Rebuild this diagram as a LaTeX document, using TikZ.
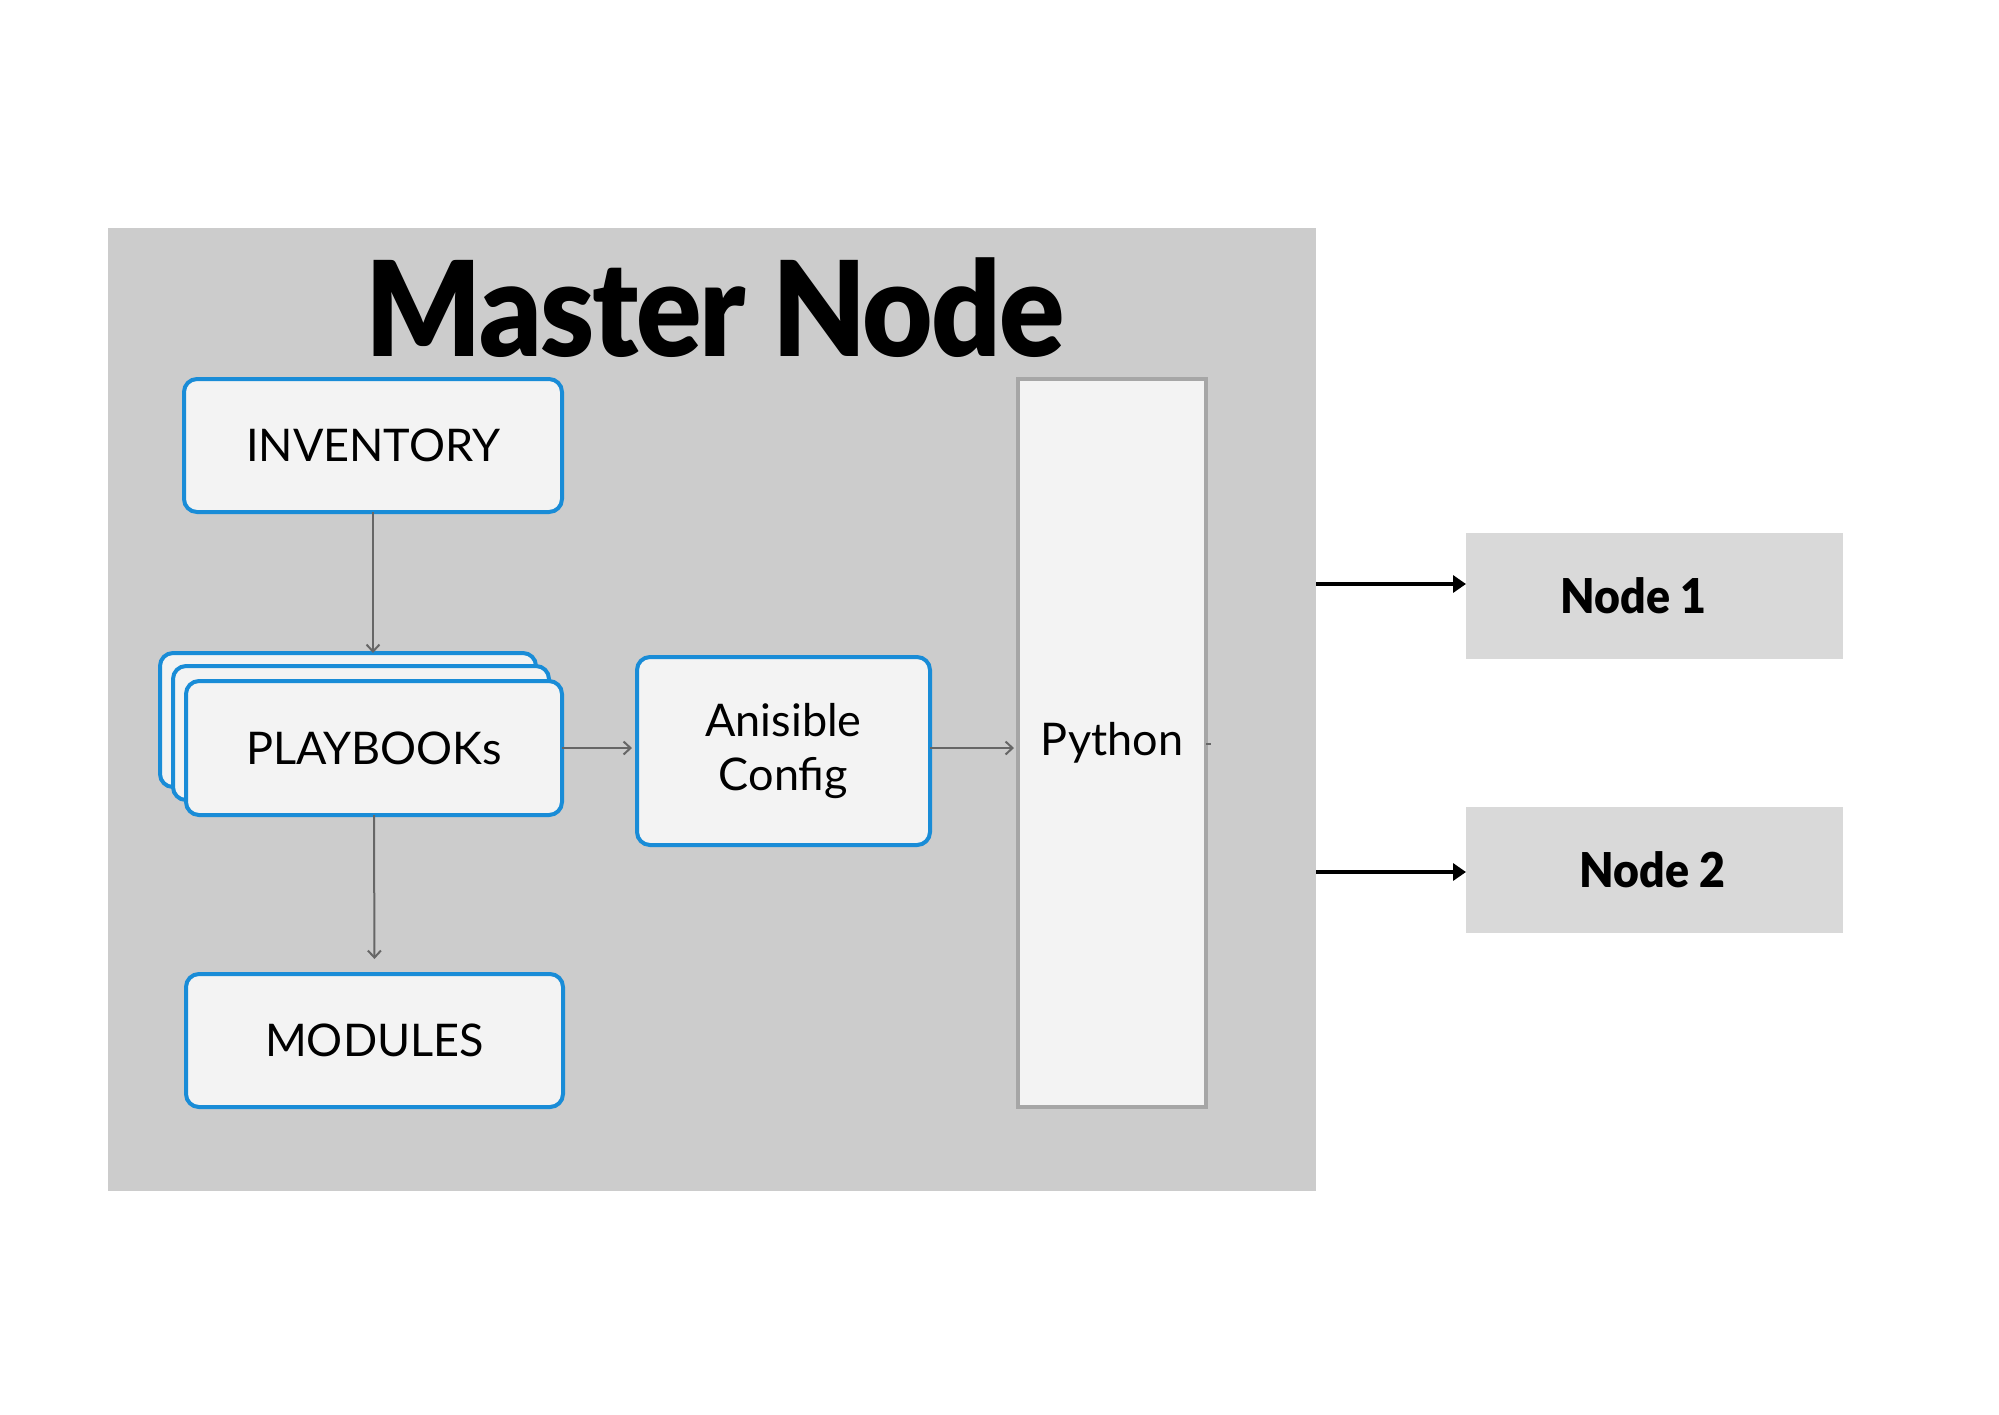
\documentclass[tikz,border=0pt]{standalone}
\usepackage{fontspec}
\setmainfont{Lato}
\newfontfamily\titlefont{Lato Black}[FakeStretch=0.92,LetterSpace=-1.5]
\newfontfamily\nodefont{Lato Black}[FakeStretch=0.93]
\usetikzlibrary{arrows.meta}
\definecolor{masterbg}{HTML}{CCCCCC}
\definecolor{nodebg}{HTML}{D9D9D9}
\definecolor{boxfill}{HTML}{F3F3F3}
\definecolor{blueb}{RGB}{25,140,215}
\definecolor{pyborder}{HTML}{A6A6A6}
\definecolor{arrowgray}{HTML}{666666}
\tikzset{
  bluebox/.style={draw=blueb, line width=4pt, rounded corners=13pt, fill=boxfill,
    inner sep=0pt, outer sep=0pt, align=center,
    font=\fontsize{45}{54}\selectfont},
  nodebox/.style={fill=nodebg, inner sep=0pt, outer sep=0pt,
    minimum width=377pt, minimum height=126pt,
    font=\nodefont\fontsize{48}{54}\selectfont},
  grayarrow/.style={draw=arrowgray, line width=2pt, -{Straight Barb[length=7pt,width=13pt]}},
  blackarrow/.style={draw=black, line width=4pt, -{Triangle[length=13pt,width=17pt]}},
}
\begin{document}
\begin{tikzpicture}[x=1pt,y=-1pt]
\useasboundingbox (0,0) rectangle (1999,1414);
\fill[white] (0,0) rectangle (1999,1414);
% master box
\node[fill=masterbg, inner sep=0pt, outer sep=0pt, minimum width=1208pt, minimum height=963pt, anchor=north west] (master) at (108,228) {};
\node[anchor=base, inner sep=0pt, font=\titlefont\fontsize{132}{132}\selectfont] (title) at (715,356) {Master Node};
% boxes
\node[bluebox, minimum width=378pt, minimum height=133pt] (inv) at (373,445.5) {INVENTORY};
\node[bluebox, minimum width=376pt, minimum height=134pt] (pb2) at (348,720) {};
\node[bluebox, minimum width=376pt, minimum height=134pt] (pb1) at (361,733) {};
\node[bluebox, minimum width=376pt, minimum height=134pt] (pb) at (374,748) {PLAYBOOKs};
\node[bluebox, minimum width=377pt, minimum height=133pt] (mod) at (374.5,1040.5) {MODULES};
\node[bluebox, minimum width=293pt, minimum height=188pt] (ani) at (783.5,751) {Anisible\\Config};
\node[draw=pyborder, line width=3.5pt, fill=boxfill, inner sep=0pt, outer sep=0pt,
  minimum width=188pt, minimum height=728pt, font=\fontsize{45}{54}\selectfont] (py) at (1112,743) {Python};
% nodes
\node[nodebox] (n1) at (1654.5,596) {\hspace*{-42pt}Node 1};
\node[nodebox] (n2) at (1654.5,870) {\hspace*{-4pt}Node 2};
% connectors
\draw[grayarrow] (inv.south) -- (inv.south |- pb2.north);
\draw[grayarrow, shorten >=15pt] (pb.south) -- (mod.north);
\draw[grayarrow, shorten >=5pt] (pb.east) -- (ani.west |- pb.east);
\draw[grayarrow, shorten >=4pt] (ani.east |- pb.east) -- (py.west |- pb.east);
\draw[draw=arrowgray, line width=2pt] (py.east |- 0,744) -- ++(5,0);
\draw[blackarrow] (master.east |- 0,584) -- (n1.west |- 0,584);
\draw[blackarrow] (master.east |- 0,872) -- (n2.west |- 0,872);
\end{tikzpicture}
\end{document}
